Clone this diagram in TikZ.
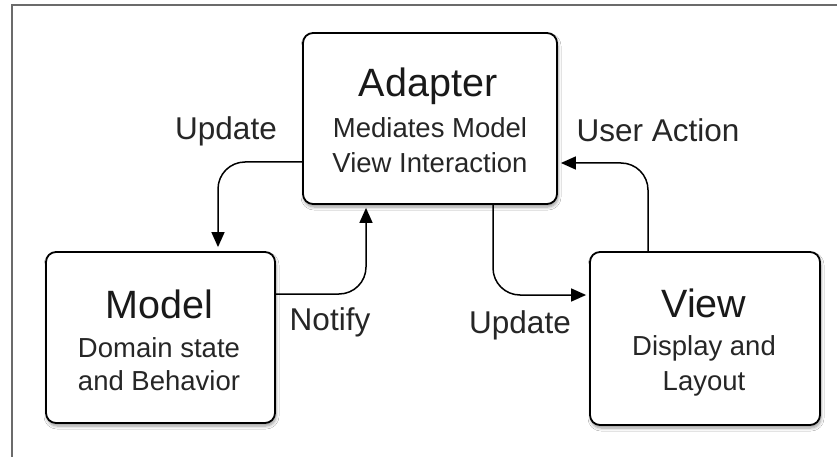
\documentclass[tikz,border=0pt]{standalone}
\usepackage{fontspec}
\setmainfont{Liberation Sans}
\usetikzlibrary{arrows.meta,shadows.blur}

\tikzset{
  frameline/.style={draw=black!58, line width=2.4pt},
  box/.style={draw=black, line width=1.8pt, rounded corners=10pt, fill=white,
    blur shadow={shadow xshift=1pt, shadow yshift=-3pt, shadow blur radius=3pt,
      shadow opacity=40, shadow blur steps=6}},
  title/.style={anchor=base, font=\fontsize{39.5}{42}\selectfont, text=black!90},
  sub/.style={anchor=base, font=\fontsize{27.5}{32}\selectfont, text=black!85},
  lbl/.style={anchor=base, font=\fontsize{31.5}{36}\selectfont, text=black!85},
  conn/.style={draw=black, line width=1.5pt, rounded corners=27pt,
    -{Triangle[length=15pt,width=13pt]}}
}

\begin{document}
\begin{tikzpicture}[x=1pt,y=-1pt]
  \useasboundingbox (0,0) rectangle (837,457);
  \fill[white] (0,0) rectangle (837,457);

  % outer frame (top and left edges only)
  \draw[frameline] (837,5) -- (12,5) -- (12,457);

  % boxes
  \node[box, minimum width=254pt, minimum height=171pt] (adapter) at (430,118.5) {};
  \node[box, minimum width=229pt, minimum height=171pt] (model) at (160.5,337.5) {};
  \node[box, minimum width=230pt, minimum height=173pt] (view) at (705,338.5) {};

  % box texts
  \node[title] (adapterT) at (428,97) {Adapter};
  \node[sub] (adapterS1) at (430,138) {Mediates Model};
  \node[sub] (adapterS2) at (430,172) {View Interaction};

  \node[title] (modelT) at (159,318) {Model};
  \node[sub] (modelS1) at (159,357) {Domain state};
  \node[sub] (modelS2) at (159,390) {and Behavior};

  \node[title] (viewT) at (704,317) {View};
  \node[sub] (viewS1) at (704,355) {Display and};
  \node[sub] (viewS2) at (704,390) {Layout};

  % connectors
  \draw[conn, shorten >=4pt] (adapter.west |- 0,162) -| ([xshift=57.5pt]model.north);
  \draw[conn, shorten >=3pt] (model.east |- 0,294) -| ([xshift=-64pt]adapter.south);
  \draw[conn, shorten >=3pt] ([xshift=63pt]adapter.south) |- (view.west |- 0,295);
  \draw[conn, shorten >=3pt] ([xshift=-57pt]view.north) |- (adapter.east |- 0,163);

  % connector labels
  \node[lbl] (lblUpdateL) at (226,140) {Update};
  \node[lbl] (lblNotify) at (330,330) {Notify};
  \node[lbl] (lblUpdateR) at (520,333) {Update};
  \node[lbl] (lblUser) at (658,142) {User Action};
\end{tikzpicture}
\end{document}
